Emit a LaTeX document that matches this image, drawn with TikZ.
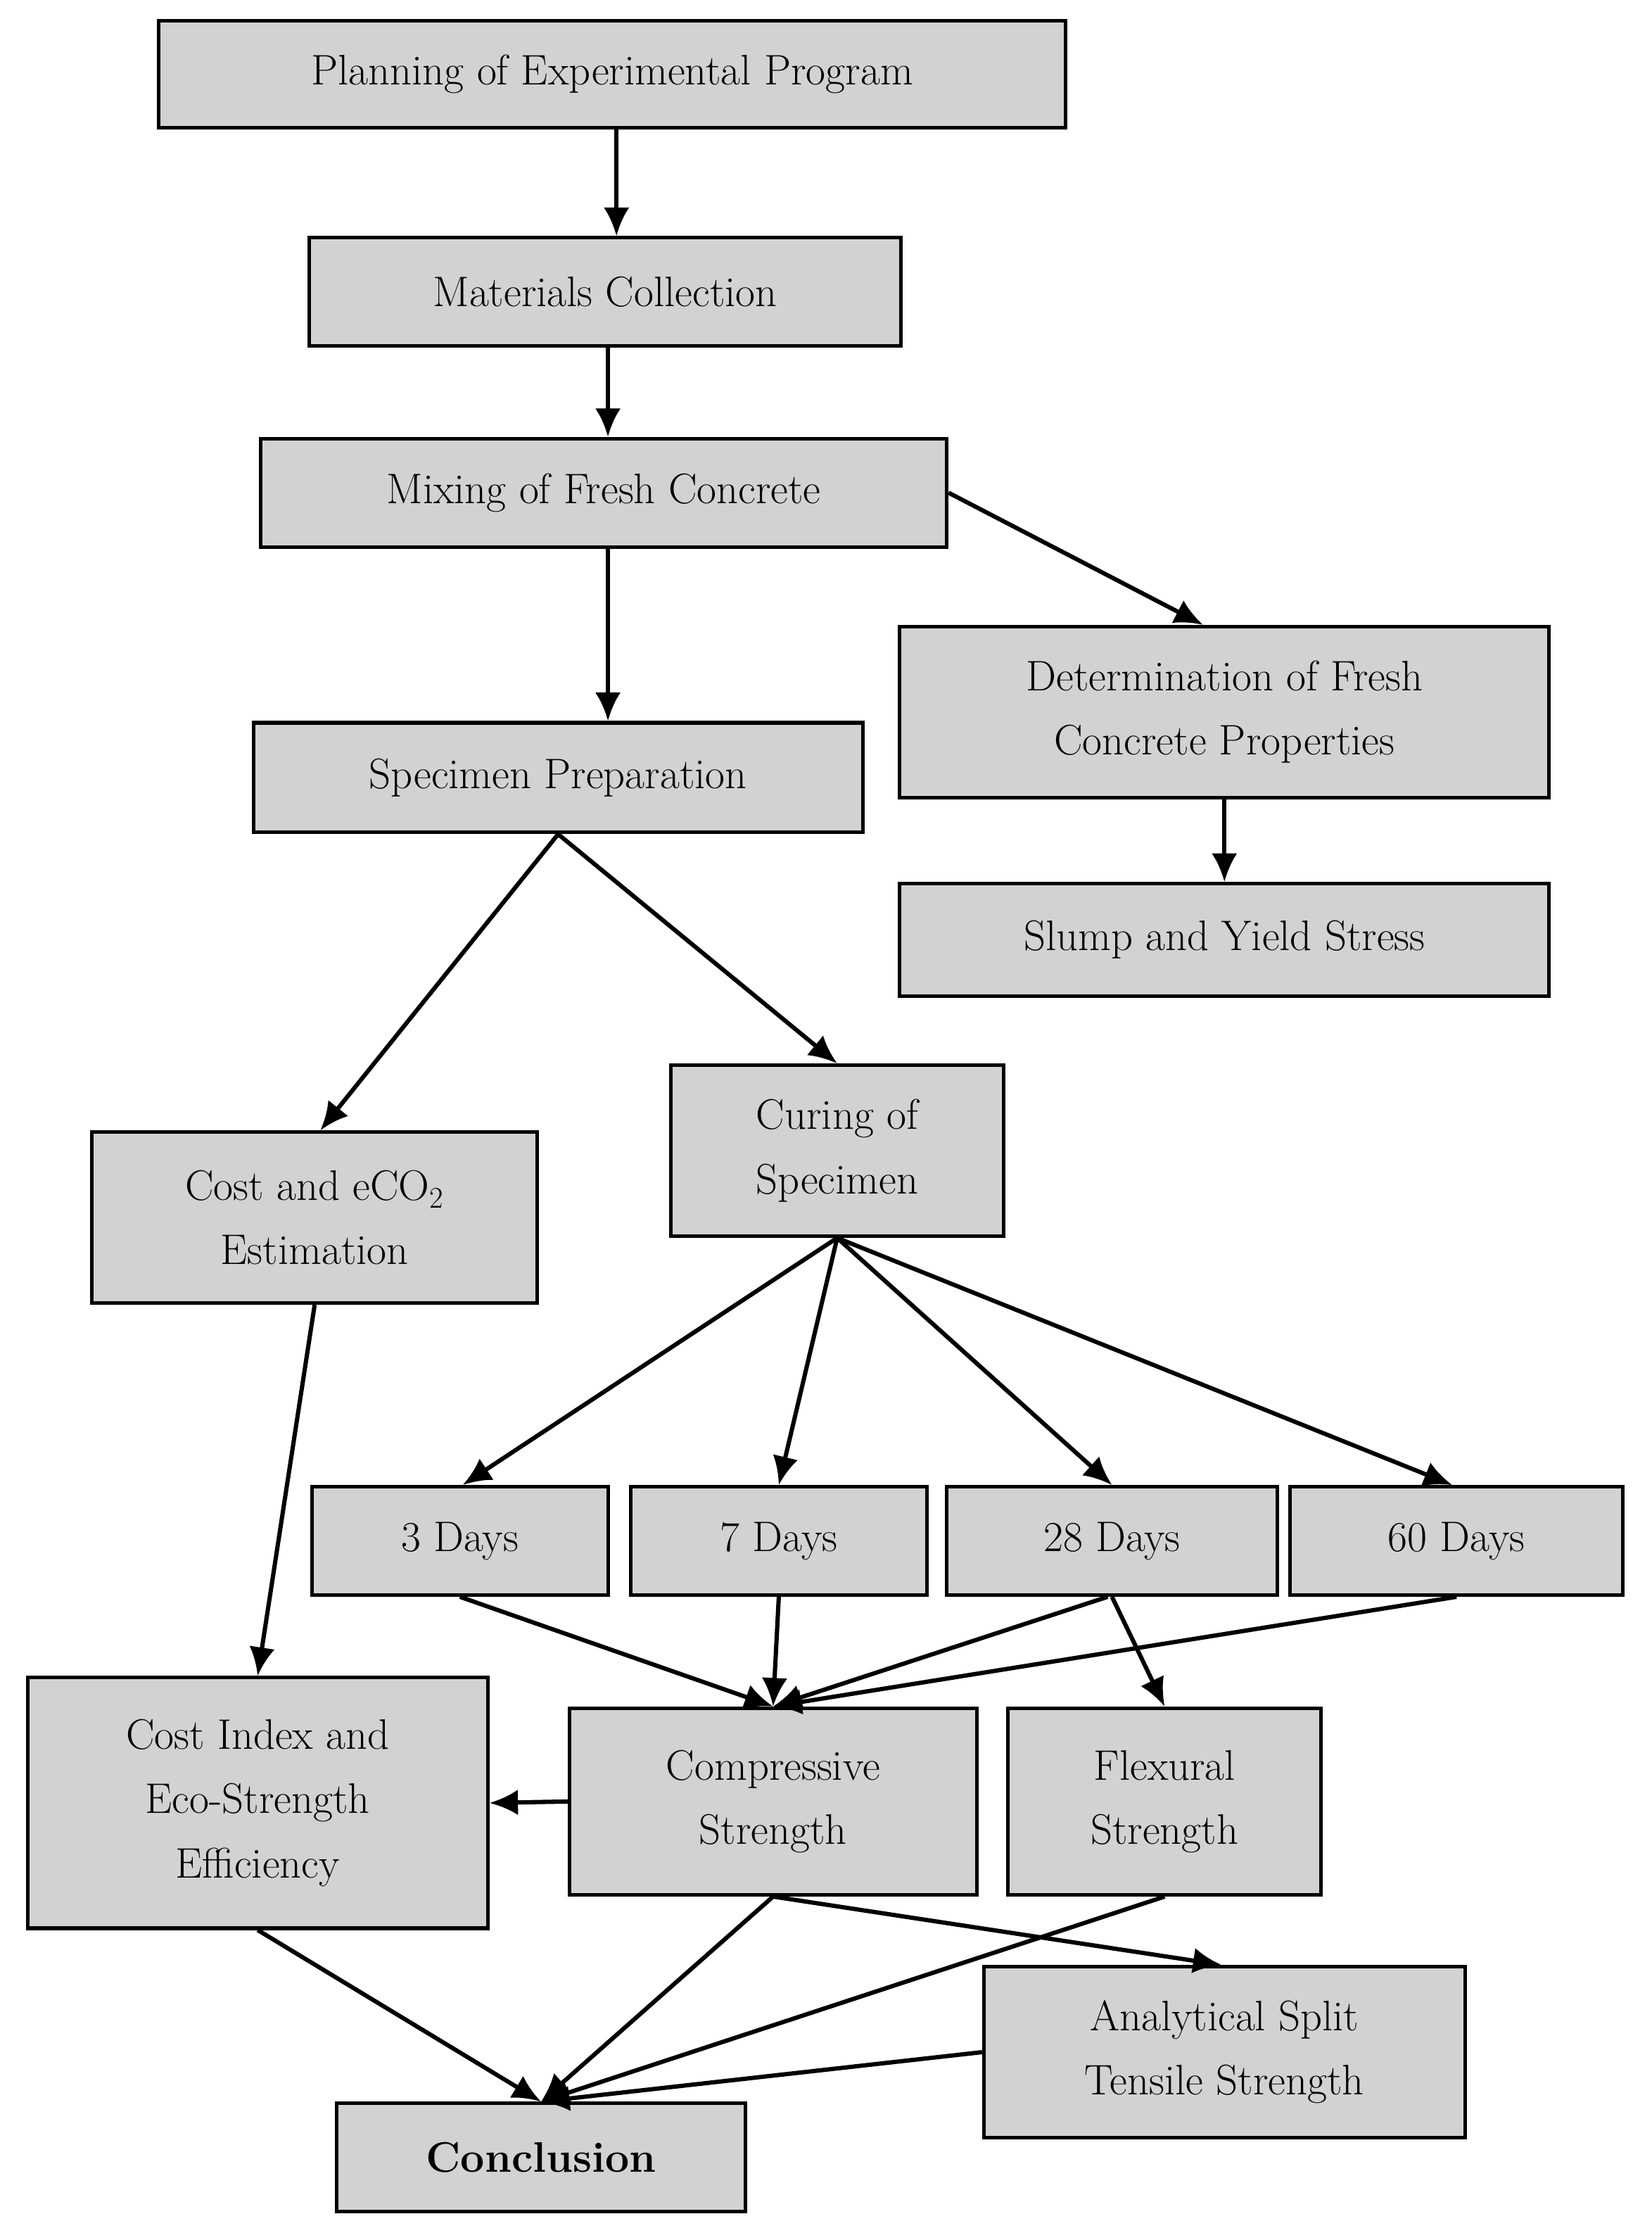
\documentclass[tikz,border=0pt]{standalone}
\usetikzlibrary{arrows.meta,calc}
\begin{document}
\begin{tikzpicture}[x=1pt,y=-1pt,
  box/.style={draw=black,line width=2.5pt,fill=gray!35,align=center,inner sep=0pt,font=\fontsize{30}{45}\selectfont},
  arr/.style={line width=3pt,-{Latex[length=20pt,width=18pt]}}]
\useasboundingbox (0,0) rectangle (1160,1568);
\node[box,minimum width=637,minimum height=75] (plan) at (430,52) {Planning of Experimental Program};
\node[box,minimum width=416,minimum height=76] (mat) at (425,205) {Materials Collection};
\node[box,minimum width=482,minimum height=76] (mix) at (424,346) {Mixing of Fresh Concrete};
\node[box,minimum width=456,minimum height=120] (det) at (860,500) {Determination of Fresh\\Concrete Properties};
\node[box,minimum width=456,minimum height=79] (slump) at (860,660) {Slump and Yield Stress};
\node[box,minimum width=428,minimum height=77] (spec) at (392,546) {Specimen Preparation};
\node[box,minimum width=313,minimum height=120] (cost) at (221,855) {Cost and eCO\textsubscript{2}\\Estimation};
\node[box,minimum width=234,minimum height=120] (cur) at (588,808) {Curing of\\Specimen};
\node[box,minimum width=208,minimum height=76] (d3) at (323,1082) {3 Days};
\node[box,minimum width=208,minimum height=76] (d7) at (547,1082) {7 Days};
\node[box,minimum width=232,minimum height=76] (d28) at (781,1082) {28 Days};
\node[box,minimum width=234,minimum height=76] (d60) at (1023,1082) {60 Days};
\node[box,minimum width=323,minimum height=176] (ci) at (181,1266) {Cost Index and\\Eco-Strength\\Efficiency};
\node[box,minimum width=286,minimum height=131] (comp) at (543,1265) {Compressive\\Strength};
\node[box,minimum width=220,minimum height=131] (flex) at (818,1265) {Flexural\\Strength};
\node[box,minimum width=338,minimum height=120] (ana) at (860,1441) {Analytical Split\\Tensile Strength};
\node[box,minimum width=287,minimum height=76] (conc) at (380,1515) {\textbf{Conclusion}};
\draw[arr] ([xshift=3]plan.south) -- ([xshift=8]mat.north);
\draw[arr] ([xshift=2]mat.south) -- ([xshift=3]mix.north);
\draw[arr] ([xshift=3]mix.south) -- ([xshift=35]spec.north);
\draw[arr] (mix.east) -- ([xshift=-15]det.north);
\draw[arr] (det.south) -- (slump.north);
\draw[arr] (spec.south) -- ([xshift=4]cost.north);
\draw[arr] (spec.south) -- (cur.north);
\draw[arr] (cur.south) -- ([xshift=2]d3.north);
\draw[arr] (cur.south) -- (d7.north);
\draw[arr] (cur.south) -- (d28.north);
\draw[arr] (cur.south) -- ([xshift=-3]d60.north);
\draw[arr] (d3.south) -- (comp.north);
\draw[arr] (d7.south) -- (comp.north);
\draw[arr] ([xshift=-3]d28.south) -- (comp.north);
\draw[arr] (d60.south) -- (comp.north);
\draw[arr] (d28.south) -- (flex.north);
\draw[arr] (cost.south) -- (ci.north);
\draw[arr] (comp.west) -- (ci.east);
\draw[arr] (ci.south) -- (conc.north);
\draw[arr] (comp.south) -- (conc.north);
\draw[arr] (comp.south) -- ([xshift=-2]ana.north);
\draw[arr] (flex.south) -- (conc.north);
\draw[arr] (ana.west) -- (conc.north);
\end{tikzpicture}
\end{document}
